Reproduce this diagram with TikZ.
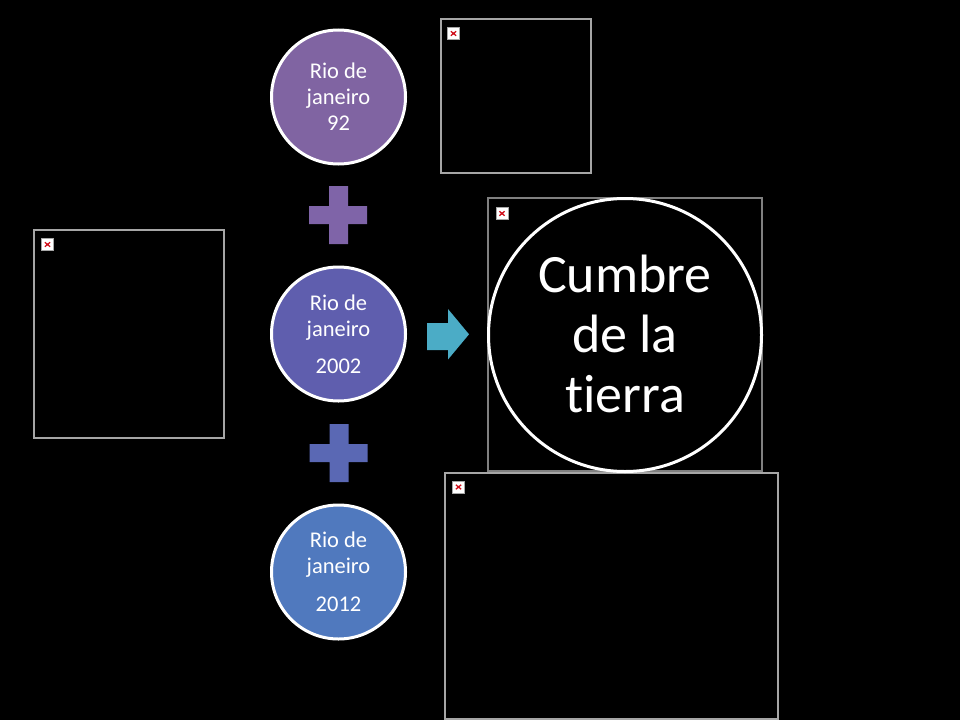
\documentclass[tikz,border=0pt]{standalone}
\usepackage{fontspec}
\setmainfont{Carlito}[Ligatures=NoCommon]
\definecolor{cA}{HTML}{8064A2}
\definecolor{cB}{HTML}{5F5EAE}
\definecolor{cC}{HTML}{5079BE}
\definecolor{pA}{HTML}{7F64A8}
\definecolor{pB}{HTML}{5A68B4}
\definecolor{arrowc}{HTML}{4BACC6}
\definecolor{boxgray}{HTML}{A6A6A6}
\definecolor{boxgrayB}{HTML}{808080}
\definecolor{xred}{HTML}{D0101C}
\begin{document}
\begin{tikzpicture}[x=1pt,y=-1pt,
  imgbox/.style={draw=boxgray, line width=1.3pt, inner sep=0pt, rectangle},
  imgicon/.style={draw=gray!70, fill=white, line width=0.6pt, minimum size=12pt, inner sep=0pt, rectangle,
    path picture={\draw[xred, line width=1.3pt]
      (path picture bounding box.center) +(-2.6pt,-2.2pt) -- +(2.6pt,2.2pt)
      (path picture bounding box.center) +(-2.6pt,2.2pt) -- +(2.6pt,-2.2pt);}},
  circ/.style={circle, draw=white, line width=3pt, minimum size=134pt, inner sep=0pt,
    text=white, align=center, font=\fontsize{22.5}{26}\selectfont},
  bigcirc/.style={circle, draw=white, line width=3pt, fill=black, minimum size=273pt, inner sep=0pt,
    text=white, align=center, font=\fontsize{54}{60}\selectfont}]
\fill[black] (0,0) rectangle (960,720);
\useasboundingbox (0,0) rectangle (960,720);

% image placeholders
\node[imgbox, minimum width=150pt, minimum height=154pt] (boxtop) at (516,96) {};
\node[imgbox, minimum width=190pt, minimum height=208pt] (boxleft) at (129,334) {};
\node[imgbox, draw=boxgrayB, minimum width=274pt, minimum height=273pt] (boxbig) at (625,334.5) {};
\node[imgbox, minimum width=333pt, minimum height=246pt] (boxbottom) at (611.5,596) {};
\node[imgicon] (icontop) at (453.5,33.5) {};
\node[imgicon] (iconleft) at (47.5,244.5) {};
\node[imgicon] (iconbig) at (502,213.5) {};
\node[imgicon] (iconbottom) at (458.5,487) {};

% circles
\node[circ, fill=cA] (rio92) at (338.5,97) {Rio de\\janeiro\\92};
\node[circ, fill=cB] (rio2002) at (338.5,334) {Rio de\\janeiro\\[11pt]2002};
\node[circ, fill=cC] (rio2012) at (338.5,572) {Rio de\\janeiro\\[12pt]2012};

% plus signs
\fill[pA] (329,186) -- (348,186) -- (348,206) -- (367,206) -- (367,224) -- (348,224)
  -- (348,244) -- (329,244) -- (329,224) -- (309,224) -- (309,206) -- (329,206) -- cycle;
\begin{scope}[shift={(0.5,238)}]
\fill[pB] (329,186) -- (348,186) -- (348,206) -- (367,206) -- (367,224) -- (348,224)
  -- (348,244) -- (329,244) -- (329,224) -- (309,224) -- (309,206) -- (329,206) -- cycle;
\end{scope}

% arrow
\fill[arrowc] (427,323) -- (448,323) -- (448,309) -- (469,334.3) -- (448,359.5)
  -- (448,350) -- (427,350) -- cycle;

% big circle
\node[bigcirc] (cumbre) at (625,335) {\raisebox{3pt}{Cumbre}\\\raisebox{3pt}{de la}\\\raisebox{3pt}{tierra}};
\end{tikzpicture}
\end{document}
